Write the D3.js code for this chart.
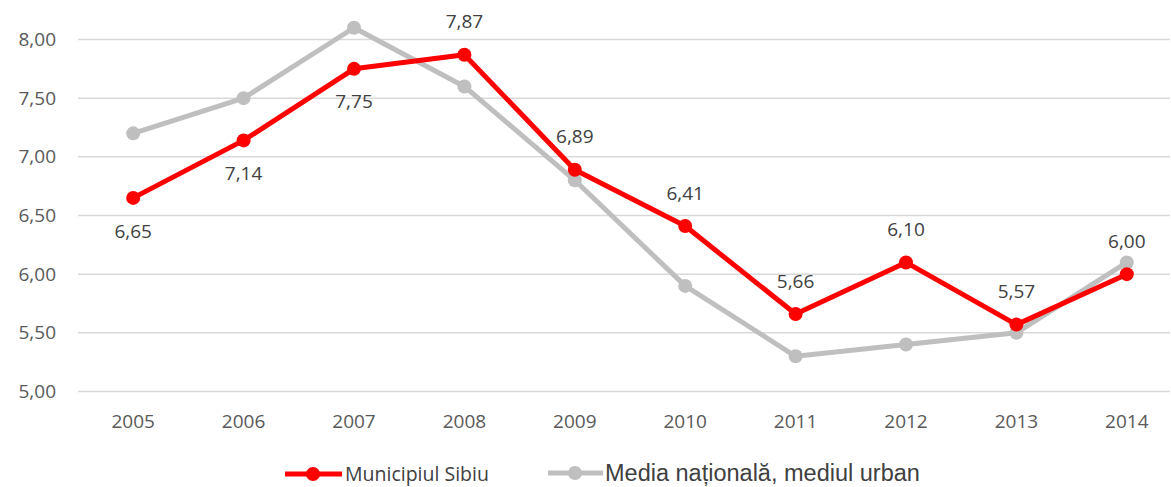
<!DOCTYPE html>
<meta charset="utf-8">
<style>
body { margin: 0; background: #fff; }
.grid line { stroke: #d9d9d9; stroke-width: 1.5px; }
.axis text { fill: #595959; font: 19px "Open Sans", sans-serif; }
.label { fill: #404040; font: 19px "Open Sans", sans-serif; text-anchor: middle; }
.line { fill: none; stroke-width: 5px; stroke-linejoin: round; }
</style>
<svg width="1171" height="487"></svg>
<script src="https://cdn.jsdelivr.net/npm/d3@7"></script>
<script>

var years = ["2005", "2006", "2007", "2008", "2009", "2010", "2011", "2012", "2013", "2014"];
var sibiu = [6.65, 7.14, 7.75, 7.87, 6.89, 6.41, 5.66, 6.10, 5.57, 6.00];
var nationalUrban = [7.20, 7.50, 8.10, 7.60, 6.80, 5.90, 5.30, 5.40, 5.50, 6.10];
var yTicks = [5.0, 5.5, 6.0, 6.5, 7.0, 7.5, 8.0];
// label above (-1) or below (+1) the red point
var labelSide = [1, 1, 1, -1, -1, -1, -1, -1, -1, -1];

var svg = d3.select("svg");

var x = d3.scaleBand().domain(years).range([78, 1182]);
var y = d3.scaleLinear().domain([5, 8]).range([391.5, 39.5]);
var fmt = function(v) { return d3.format(".2f")(v).replace(".", ","); };

svg.append("g")
    .attr("class", "grid")
  .selectAll("line")
  .data(yTicks)
  .enter().append("line")
    .attr("x1", 78)
    .attr("x2", 1170)
    .attr("y1", function(d) { return y(d); })
    .attr("y2", function(d) { return y(d); });

svg.append("g")
    .attr("class", "axis")
    .attr("transform", "translate(56,0)")
    .call(d3.axisLeft(y).tickValues(yTicks).tickFormat(fmt).tickSize(0).tickPadding(0))
    .call(function(g) { g.select(".domain").remove(); });

svg.append("g")
    .attr("class", "axis")
    .attr("transform", "translate(0,410)")
    .call(d3.axisBottom(x).tickSize(0).tickPadding(4))
    .call(function(g) { g.select(".domain").remove(); });

var line = d3.line()
    .x(function(d, i) { return x(years[i]) + x.bandwidth() / 2; })
    .y(function(d) { return y(d); });

var series = [
  {name: "Media națională, mediul urban", values: nationalUrban, color: "#bfbfbf"},
  {name: "Municipiul Sibiu", values: sibiu, color: "#ff0000"}
];

series.forEach(function(s) {
  var g = svg.append("g");
  g.append("path")
      .attr("class", "line")
      .attr("d", line(s.values))
      .style("stroke", s.color);
  g.selectAll("circle")
    .data(s.values)
    .enter().append("circle")
      .attr("cx", function(d, i) { return x(years[i]) + x.bandwidth() / 2; })
      .attr("cy", function(d) { return y(d); })
      .attr("r", 7)
      .style("fill", s.color);
});

svg.append("g")
  .selectAll("text")
  .data(sibiu)
  .enter().append("text")
    .attr("class", "label")
    .attr("x", function(d, i) { return x(years[i]) + x.bandwidth() / 2; })
    .attr("y", function(d, i) { return y(d) + labelSide[i] * 33; })
    .attr("dy", "0.35em")
    .text(fmt);

// legend
var legend = svg.append("g");
var lg1 = legend.append("g").attr("transform", "translate(285,474)");
lg1.append("line").attr("x1", 0).attr("x2", 57).attr("stroke", "#ff0000").attr("stroke-width", 5);
lg1.append("circle").attr("cx", 28).attr("r", 7).attr("fill", "#ff0000");
lg1.append("text").attr("x", 60).attr("dy", "0.35em")
    .style("font", "19.5px 'Open Sans', sans-serif").style("fill", "#404040")
    .text("Municipiul Sibiu");

var lg2 = legend.append("g").attr("transform", "translate(548,473)");
lg2.append("line").attr("x1", 0).attr("x2", 55).attr("stroke", "#bfbfbf").attr("stroke-width", 5);
lg2.append("circle").attr("cx", 27).attr("r", 7).attr("fill", "#bfbfbf");
lg2.append("text").attr("x", 57).attr("dy", "0.35em")
    .style("font", "23.5px 'Liberation Sans', Arial, sans-serif").style("fill", "#404040")
    .text("Media națională, mediul urban");

</script>
